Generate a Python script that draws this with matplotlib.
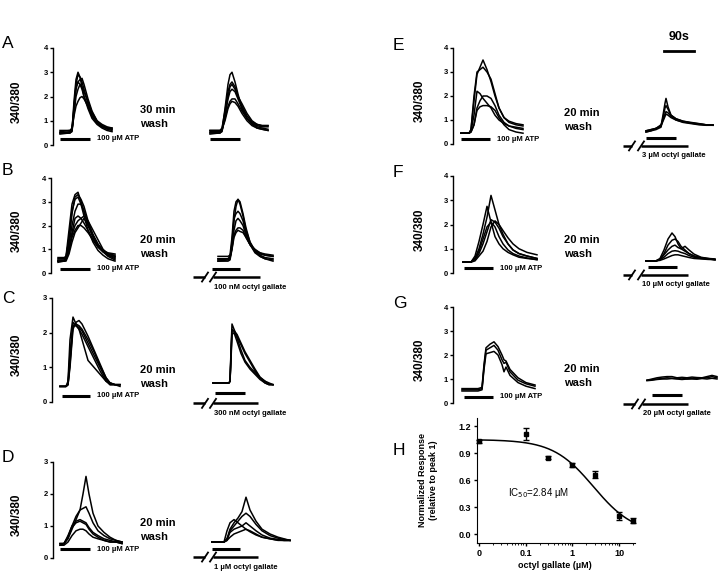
import numpy as np
import matplotlib
matplotlib.use('Agg')
import matplotlib.pyplot as plt

plt.rcParams['font.family'] = ['Liberation Sans', 'DejaVu Sans']

W, H = 726, 577
SEC_PER_PX = 3.0  # 90 s scale bar is 30 px wide

# ---------------- data: Ca traces (time s from trace start, 340/380 ratio) ----------------
A_left_t = [0, 30, 36, 42, 48, 54, 60, 66, 72, 84, 96, 111, 126, 141, 156]
A_left = [
    [0.5, 0.5, 0.6, 1.8, 2.7, 3.0, 2.8, 2.4, 2.0, 1.5, 1.1, 0.85, 0.7, 0.6, 0.55],
    [0.55, 0.6, 0.7, 1.5, 2.4, 2.6, 2.7, 2.75, 2.5, 1.9, 1.4, 1.0, 0.8, 0.7, 0.65],
    [0.45, 0.5, 0.55, 1.4, 2.3, 2.6, 2.5, 2.3, 2.0, 1.6, 1.2, 0.9, 0.75, 0.65, 0.6],
    [0.6, 0.6, 0.65, 1.2, 1.6, 1.8, 1.95, 2.0, 1.9, 1.6, 1.2, 0.9, 0.75, 0.7, 0.65],
    [0.5, 0.55, 0.6, 1.6, 2.5, 2.9, 2.8, 2.6, 2.3, 1.7, 1.3, 0.95, 0.8, 0.7, 0.7],
    [0.5, 0.5, 0.6, 1.3, 2.0, 2.3, 2.5, 2.4, 2.2, 1.8, 1.35, 1.0, 0.85, 0.75, 0.7],
]
A_right_t = [0, 30, 36, 45, 54, 60, 66, 75, 84, 96, 111, 126, 141, 156, 174]
A_right = [
    [0.5, 0.5, 0.6, 1.5, 2.5, 2.9, 3.0, 2.6, 2.1, 1.5, 1.1, 0.9, 0.75, 0.7, 0.65],
    [0.6, 0.6, 0.7, 1.4, 2.2, 2.5, 2.6, 2.4, 2.0, 1.6, 1.2, 0.95, 0.85, 0.8, 0.8],
    [0.45, 0.5, 0.55, 1.2, 1.9, 2.2, 2.3, 2.2, 1.9, 1.5, 1.1, 0.85, 0.7, 0.65, 0.6],
    [0.55, 0.55, 0.6, 1.1, 1.6, 1.8, 1.9, 1.9, 1.7, 1.4, 1.1, 0.9, 0.8, 0.75, 0.75],
    [0.5, 0.5, 0.6, 1.3, 2.0, 2.4, 2.5, 2.3, 2.0, 1.7, 1.3, 1.0, 0.85, 0.8, 0.8],
    [0.6, 0.6, 0.65, 1.0, 1.5, 1.7, 1.8, 1.75, 1.6, 1.3, 1.0, 0.8, 0.7, 0.65, 0.6],
]

B_left_t = [0, 18, 24, 33, 42, 51, 60, 69, 78, 90, 105, 120, 135, 150, 171]
B_left = [
    [0.5, 0.5, 0.7, 1.8, 2.9, 3.3, 3.4, 3.0, 2.6, 2.0, 1.5, 1.1, 0.9, 0.8, 0.7],
    [0.65, 0.65, 0.7, 1.4, 2.5, 3.2, 3.3, 3.1, 2.8, 2.2, 1.6, 1.2, 0.95, 0.85, 0.8],
    [0.5, 0.5, 0.55, 0.9, 1.7, 2.3, 2.4, 2.3, 2.1, 1.8, 1.4, 1.1, 0.9, 0.75, 0.6],
    [0.45, 0.5, 0.5, 0.8, 1.3, 1.7, 1.9, 2.1, 2.3, 2.0, 1.6, 1.2, 0.95, 0.8, 0.7],
    [0.5, 0.5, 0.6, 1.2, 2.0, 2.6, 2.9, 2.9, 2.6, 2.1, 1.6, 1.2, 0.9, 0.7, 0.55],
    [0.55, 0.55, 0.6, 1.0, 1.5, 1.8, 2.0, 2.0, 1.9, 1.7, 1.4, 1.1, 0.9, 0.75, 0.65],
    [0.5, 0.5, 0.6, 1.5, 2.6, 3.1, 3.2, 2.9, 2.4, 1.8, 1.3, 0.95, 0.75, 0.6, 0.5],
    [0.6, 0.6, 0.65, 1.0, 1.6, 2.0, 2.2, 2.3, 2.4, 2.2, 1.8, 1.4, 1.0, 0.8, 0.75],
]
B_right_t = [0, 30, 36, 42, 48, 54, 60, 66, 75, 84, 96, 111, 126, 141, 165]
B_right = [
    [0.7, 0.7, 0.75, 1.5, 2.6, 3.0, 3.1, 2.9, 2.4, 1.8, 1.3, 0.95, 0.8, 0.75, 0.7],
    [0.55, 0.6, 0.6, 1.2, 2.2, 2.8, 3.1, 3.0, 2.5, 1.9, 1.3, 0.9, 0.7, 0.6, 0.55],
    [0.5, 0.5, 0.55, 1.0, 1.8, 2.2, 2.3, 2.2, 2.0, 1.6, 1.2, 0.9, 0.75, 0.65, 0.6],
    [0.6, 0.6, 0.65, 1.1, 1.6, 1.8, 1.9, 1.9, 1.8, 1.5, 1.2, 0.95, 0.85, 0.8, 0.75],
    [0.5, 0.55, 0.6, 1.3, 2.3, 2.5, 2.6, 2.5, 2.2, 1.7, 1.2, 0.85, 0.7, 0.6, 0.5],
    [0.6, 0.6, 0.7, 1.0, 1.5, 1.7, 1.8, 1.75, 1.7, 1.5, 1.2, 1.0, 0.85, 0.75, 0.7],
]

C_left_t = [0, 18, 24, 30, 39, 48, 57, 66, 84, 102, 120, 138, 150, 165, 180]
C_left = [
    [0.45, 0.45, 0.6, 1.8, 2.45, 2.25, 2.1, 1.95, 1.6, 1.25, 0.9, 0.6, 0.5, 0.5, 0.5],
    [0.45, 0.45, 0.5, 1.0, 2.1, 2.3, 2.35, 2.25, 1.9, 1.5, 1.1, 0.7, 0.55, 0.5, 0.5],
    [0.45, 0.45, 0.55, 1.4, 2.2, 2.2, 2.1, 1.8, 1.2, 1.0, 0.8, 0.6, 0.55, 0.5, 0.5],
    [0.45, 0.45, 0.5, 1.1, 2.2, 2.25, 2.2, 2.1, 1.8, 1.45, 1.05, 0.7, 0.55, 0.5, 0.45],
    [0.45, 0.45, 0.5, 1.2, 2.3, 2.2, 2.15, 2.05, 1.7, 1.35, 1.0, 0.65, 0.5, 0.5, 0.5],
]
C_right_t = [0, 48, 51, 54, 57, 63, 72, 84, 96, 111, 126, 141, 156, 168, 180]
C_right = [
    [0.55, 0.55, 0.6, 1.5, 2.25, 2.1, 1.9, 1.65, 1.4, 1.15, 0.9, 0.7, 0.55, 0.5, 0.5],
    [0.55, 0.55, 0.6, 1.3, 2.05, 2.05, 1.85, 1.5, 1.2, 1.0, 0.85, 0.7, 0.6, 0.52, 0.5],
    [0.55, 0.55, 0.6, 1.2, 1.95, 2.0, 1.75, 1.4, 1.15, 0.95, 0.8, 0.65, 0.55, 0.5, 0.5],
    [0.55, 0.55, 0.6, 1.4, 2.1, 2.05, 1.95, 1.7, 1.45, 1.2, 0.95, 0.72, 0.6, 0.55, 0.5],
]

D_left_t = [0, 12, 24, 36, 48, 60, 69, 78, 87, 99, 114, 132, 150, 168, 186]
D_left = [
    [0.45, 0.45, 0.6, 0.9, 1.2, 1.5, 2.0, 2.55, 2.0, 1.4, 1.0, 0.8, 0.65, 0.55, 0.5],
    [0.45, 0.45, 0.65, 1.0, 1.3, 1.5, 1.55, 1.6, 1.4, 1.1, 0.85, 0.7, 0.6, 0.55, 0.5],
    [0.45, 0.45, 0.7, 1.0, 1.15, 1.2, 1.15, 1.1, 0.95, 0.8, 0.7, 0.6, 0.55, 0.5, 0.5],
    [0.4, 0.45, 0.65, 0.95, 1.1, 1.15, 1.1, 1.05, 0.9, 0.75, 0.65, 0.55, 0.5, 0.5, 0.45],
    [0.4, 0.4, 0.5, 0.7, 0.85, 0.9, 0.9, 0.85, 0.75, 0.65, 0.6, 0.55, 0.5, 0.5, 0.45],
]
D_right_t = [0, 36, 45, 54, 66, 78, 90, 102, 114, 132, 150, 174, 198, 216, 234]
D_right = [
    [0.5, 0.5, 0.6, 0.9, 1.1, 1.25, 1.45, 1.9, 1.5, 1.15, 0.9, 0.75, 0.65, 0.6, 0.55],
    [0.5, 0.5, 0.55, 0.85, 1.0, 1.15, 1.3, 1.4, 1.3, 1.05, 0.85, 0.7, 0.62, 0.58, 0.55],
    [0.5, 0.5, 0.6, 0.8, 0.9, 0.95, 1.0, 1.1, 1.0, 0.85, 0.72, 0.62, 0.58, 0.55, 0.55],
    [0.5, 0.5, 0.55, 0.65, 0.75, 0.8, 0.85, 0.9, 0.85, 0.75, 0.65, 0.6, 0.55, 0.55, 0.55],
    [0.5, 0.5, 0.85, 1.1, 1.2, 1.1, 1.0, 0.9, 0.82, 0.72, 0.65, 0.6, 0.56, 0.55, 0.55],
]

E_left_t = [0, 24, 30, 39, 48, 57, 66, 78, 90, 102, 114, 129, 144, 165, 186]
E_left = [
    [0.45, 0.45, 0.6, 1.8, 2.9, 3.2, 3.5, 3.1, 2.6, 2.0, 1.5, 1.1, 0.95, 0.85, 0.8],
    [0.45, 0.45, 0.6, 2.0, 3.0, 3.1, 3.2, 3.0, 2.7, 2.1, 1.5, 1.1, 0.9, 0.8, 0.75],
    [0.45, 0.45, 0.55, 1.2, 2.2, 2.1, 1.9, 1.7, 1.5, 1.2, 1.0, 0.85, 0.75, 0.7, 0.65],
    [0.45, 0.45, 0.5, 0.8, 1.5, 1.8, 2.0, 2.0, 1.9, 1.6, 1.2, 0.9, 0.75, 0.65, 0.6],
    [0.45, 0.45, 0.5, 0.8, 1.4, 1.55, 1.6, 1.6, 1.55, 1.4, 1.1, 0.8, 0.6, 0.5, 0.45],
]
E_right_t = [0, 15, 30, 45, 51, 57, 60, 66, 75, 90, 111, 135, 159, 180, 201]
E_right = [
    [0.55, 0.6, 0.65, 0.75, 1.2, 1.7, 1.9, 1.55, 1.2, 1.05, 0.95, 0.9, 0.85, 0.8, 0.8],
    [0.5, 0.55, 0.6, 0.7, 1.1, 1.5, 1.6, 1.45, 1.2, 1.05, 0.95, 0.88, 0.84, 0.8, 0.8],
    [0.55, 0.6, 0.65, 0.8, 1.0, 1.25, 1.35, 1.3, 1.15, 1.0, 0.92, 0.87, 0.82, 0.8, 0.78],
    [0.5, 0.55, 0.65, 0.75, 0.95, 1.15, 1.25, 1.2, 1.1, 1.0, 0.9, 0.85, 0.8, 0.78, 0.78],
]

F_left_t = [0, 24, 36, 48, 60, 72, 84, 96, 108, 120, 135, 150, 168, 192, 222]
F_left = [
    [0.45, 0.45, 0.7, 1.3, 2.0, 2.75, 2.1, 1.5, 1.2, 1.0, 0.85, 0.75, 0.65, 0.6, 0.55],
    [0.45, 0.45, 0.6, 1.0, 1.6, 2.3, 3.2, 2.6, 2.0, 1.6, 1.2, 0.95, 0.8, 0.7, 0.6],
    [0.45, 0.45, 0.55, 0.8, 1.2, 1.7, 2.2, 2.1, 1.85, 1.5, 1.2, 0.95, 0.8, 0.7, 0.6],
    [0.45, 0.45, 0.5, 0.7, 0.9, 1.3, 1.9, 2.15, 2.0, 1.75, 1.45, 1.2, 1.0, 0.85, 0.75],
    [0.45, 0.45, 0.6, 0.9, 1.4, 1.9, 2.1, 1.9, 1.5, 1.2, 0.95, 0.8, 0.7, 0.62, 0.55],
]
F_right_t = [0, 30, 42, 54, 66, 78, 87, 96, 105, 117, 129, 144, 165, 186, 207]
F_right = [
    [0.5, 0.5, 0.6, 0.95, 1.4, 1.65, 1.5, 1.2, 1.0, 0.9, 0.8, 0.7, 0.62, 0.58, 0.55],
    [0.5, 0.5, 0.55, 0.8, 1.15, 1.35, 1.4, 1.3, 1.1, 0.95, 0.8, 0.7, 0.63, 0.6, 0.58],
    [0.5, 0.5, 0.55, 0.75, 0.95, 1.1, 1.15, 1.05, 1.0, 1.1, 0.95, 0.78, 0.65, 0.6, 0.55],
    [0.5, 0.5, 0.55, 0.65, 0.8, 0.9, 0.92, 0.9, 0.85, 0.8, 0.72, 0.65, 0.6, 0.58, 0.55],
    [0.5, 0.5, 0.52, 0.58, 0.65, 0.72, 0.75, 0.75, 0.72, 0.68, 0.64, 0.6, 0.58, 0.56, 0.55],
]

G_left_t = [0, 48, 60, 66, 72, 84, 96, 108, 120, 126, 132, 144, 168, 192, 219]
G_left = [
    [0.6, 0.6, 0.65, 1.6, 2.3, 2.45, 2.55, 2.35, 2.0, 1.8, 1.75, 1.4, 1.05, 0.85, 0.75],
    [0.55, 0.55, 0.6, 1.5, 2.2, 2.3, 2.4, 2.2, 1.8, 1.65, 1.7, 1.3, 0.95, 0.8, 0.7],
    [0.5, 0.5, 0.55, 1.4, 2.05, 2.1, 2.15, 2.0, 1.6, 1.3, 1.5, 1.15, 0.85, 0.7, 0.6],
]
G_right_t = [0, 15, 30, 45, 60, 75, 90, 105, 120, 135, 150, 165, 180, 195, 210]
G_right = [
    [0.95, 1.0, 1.05, 1.08, 1.1, 1.1, 1.05, 1.07, 1.05, 1.08, 1.06, 1.05, 1.1, 1.15, 1.1],
    [0.95, 0.97, 1.0, 1.02, 1.05, 1.03, 1.02, 1.04, 1.0, 1.03, 1.02, 1.05, 1.05, 1.1, 1.05],
    [0.93, 0.95, 0.98, 1.0, 1.0, 1.02, 1.0, 0.98, 1.0, 1.0, 0.99, 1.02, 1.0, 1.03, 1.0],
]

# trace start times (s from y axis): left, right
trace_starts = {'A': (21, 471), 'B': (21, 501), 'C': (24, 483), 'D': (21, 477),
                'E': (24, 579), 'F': (30, 579), 'G': (27, 582)}
# ATP bar: (start s, end s, level)
atp_bars = {'A': (21, 111, 0.25), 'B': (27, 117, 0.17), 'C': (30, 114, 0.18), 'D': (21, 111, 0.28),
            'E': (24, 111, 0.2), 'F': (33, 120, 0.2), 'G': (33, 120, 0.25)}
# octyl gallate 2nd ATP bar: (start s, end s, level)
upper_bars = {'A': (471, 561, 0.25), 'B': (483, 567, 0.17), 'C': (489, 579, 0.25), 'D': (477, 561, 0.28),
              'E': (579, 669, 0.25), 'F': (585, 672, 0.25), 'G': (597, 687, 0.33)}
# octyl gallate bar with break: (start, break1, break2, end, level)
lower_bars = {'B': (426, 462, 486, 627, -0.17), 'C': (423, 459, 483, 618, -0.04),
              'D': (420, 456, 480, 615, 0.03), 'E': (510, 537, 564, 705, -0.08),
              'F': (510, 537, 564, 705, -0.08), 'G': (510, 546, 567, 705, -0.04)}
dose_labels = {'B': '100 nM octyl gallate', 'C': '300 nM octyl gallate', 'D': '1 µM octyl gallate',
               'E': '3 µM octyl gallate', 'F': '10 µM octyl gallate', 'G': '20 µM octyl gallate'}
wash_labels = {'A': '30 min\nwash', 'B': '20 min\nwash', 'C': '20 min\nwash', 'D': '20 min\nwash',
               'E': '20 min\nwash', 'F': '20 min\nwash', 'G': '20 min\nwash'}
y_max = {'A': 4, 'B': 4, 'C': 3, 'D': 3, 'E': 4, 'F': 4, 'G': 4}

# panel H: dose response
H_dose = [0, 0.1, 0.3, 1, 3, 10, 20]
H_resp = [1.03, 1.11, 0.85, 0.77, 0.66, 0.20, 0.15]
H_err = [0.02, 0.07, 0.02, 0.02, 0.04, 0.04, 0.03]
H_top = 1.05
H_ic50 = 2.84
H_hill = 1.0

traces = {'A': (A_left_t, A_left, A_right_t, A_right), 'B': (B_left_t, B_left, B_right_t, B_right),
          'C': (C_left_t, C_left, C_right_t, C_right), 'D': (D_left_t, D_left, D_right_t, D_right),
          'E': (E_left_t, E_left, E_right_t, E_right), 'F': (F_left_t, F_left, F_right_t, F_right),
          'G': (G_left_t, G_left, G_right_t, G_right)}

# ---------------- layout (pixels) ----------------
# letter: (axis x, y of 0, y of top, right edge, letter x, letter baseline, wash x, wash y, ylabel x)
layout = {
    'A': (53, 145, 48, 300, 2, 48, 140, 117, 17),
    'B': (51, 273, 178, 300, 2, 175, 140, 247, 17),
    'C': (52, 402, 298, 300, 2, 303, 140, 377, 17),
    'D': (53, 558, 462, 300, 2, 462, 140, 530, 17),
    'E': (453, 144, 48, 720, 393, 50, 564, 120, 420),
    'F': (453, 273, 176, 720, 393, 177, 564, 247, 420),
    'G': (453, 403, 307, 720, 393, 308, 564, 376, 420),
}

fig = plt.figure(figsize=(W / 100, H / 100), dpi=100)


def fx(x):
    return x / W


def fy(y):
    return 1 - y / H


BOLD = dict(fontweight='bold', color='black')

for key, (ax_x, y0, ytop, right, lx, ly, wx, wy, ylx) in layout.items():
    ax = fig.add_axes([fx(ax_x), fy(y0), (right - ax_x) / W, (y0 - ytop) / H])
    ax.set_xlim(0, (right - ax_x) * SEC_PER_PX)
    ax.set_ylim(0, y_max[key])
    ax.patch.set_alpha(0)
    for s in ['top', 'right', 'bottom']:
        ax.spines[s].set_visible(False)
    ax.spines['left'].set_linewidth(1.0)
    ax.set_xticks([])
    ax.set_yticks(range(y_max[key] + 1))
    ax.tick_params(axis='y', length=2.5, width=1.0, pad=1, labelsize=5.5)
    for lab in ax.get_yticklabels():
        lab.set_fontweight('bold')

    px_per_unit = (y0 - ytop) / y_max[key]
    lt, ly_list, rt, ry_list = traces[key]
    t_left, t_right = trace_starts[key]
    for ys in ly_list:
        ax.plot(np.array(lt) + t_left, ys, color='black', lw=1.1, clip_on=False)
    for ys in ry_list:
        ax.plot(np.array(rt) + t_right, ys, color='black', lw=1.1, clip_on=False)

    # ATP bar and label
    a0, a1, alev = atp_bars[key]
    ax.plot([a0, a1], [alev, alev], color='black', lw=2.2, solid_capstyle='butt', clip_on=False)
    ax.text(a1 + 7 * SEC_PER_PX, alev, '100 µM ATP', fontsize=5.5, va='center', ha='left', **BOLD)

    u0, u1, ulev = upper_bars[key]
    ax.plot([u0, u1], [ulev, ulev], color='black', lw=2.2, solid_capstyle='butt', clip_on=False)

    if key in lower_bars:
        b0, k1, k2, b1, blev = lower_bars[key]
        ax.plot([b0, k1], [blev, blev], color='black', lw=1.8, solid_capstyle='butt', clip_on=False)
        ax.plot([k2, b1], [blev, blev], color='black', lw=1.8, solid_capstyle='butt', clip_on=False)
        dt = 3 * SEC_PER_PX
        dy = 4.5 / px_per_unit
        for k in (k1, k2):
            ax.plot([k - dt, k + dt], [blev - dy, blev + dy], color='black', lw=1.3, clip_on=False)
        ax.text(k2 + 1 * SEC_PER_PX, blev - 10 / px_per_unit, dose_labels[key], fontsize=5.5,
                va='center', ha='left', **BOLD)

    fig.text(fx(lx), fy(ly), key, fontsize=12.5, va='baseline', ha='left')
    fig.text(fx(wx), fy(wy), wash_labels[key], fontsize=8, va='center', ha='left',
             linespacing=1.4, **BOLD)
    fig.text(fx(ylx), fy((y0 + ytop) / 2 + 5), '340/380', rotation=90, fontsize=8.5,
             va='center', ha='center', **BOLD)

# scale bar 90 s
fig.text(fx(679), fy(37), '90s', fontsize=9, ha='center', va='center', **BOLD)
fig.add_artist(plt.Line2D([fx(664), fx(694)], [fy(51), fy(51)], color='black', lw=2))

# ---------------- panel H ----------------
axh = fig.add_axes([fx(477), fy(543), (635 - 477) / W, (543 - 418) / H])
axh.set_xscale('log')
zero_pos = 0.01
xd = np.array([zero_pos if d == 0 else d for d in H_dose])
axh.set_xlim(10 ** (-2.04), 10 ** 1.34)
axh.set_ylim(-0.1, 1.29)
xc = np.logspace(-2, np.log10(20), 200)
axh.plot(xc, H_top / (1 + (xc / H_ic50) ** H_hill), color='black', lw=1.1)
axh.errorbar(xd, H_resp, yerr=H_err, fmt='s', color='black', ms=3.2, capsize=2, elinewidth=1,
             capthick=1, clip_on=False)
for s in ['top', 'right']:
    axh.spines[s].set_visible(False)
axh.set_yticks([0.0, 0.3, 0.6, 0.9, 1.2])
axh.set_yticklabels(['0.0', '0.3', '0.6', '0.9', '1.2'])
axh.set_xticks([0.01, 0.1, 1, 10])
axh.set_xticklabels(['0', '0.1', '1', '10'])
axh.tick_params(axis='both', which='major', length=2.5, width=1, pad=1.5, labelsize=6.5)
axh.tick_params(axis='x', which='minor', length=1.5, width=0.6)
for lab in axh.get_xticklabels() + axh.get_yticklabels():
    lab.set_fontweight('bold')
axh.patch.set_alpha(0)
axh.text(0.196, 0.4, 'IC$_{50}$=2.84 µM', transform=axh.transAxes, fontsize=7,
         ha='left', va='center')
fig.text(fx(518), fy(566), 'octyl gallate (µM)', fontsize=6.5, ha='left', va='center', **BOLD)
fig.text(fx(428), fy(480), 'Normalized Response\n(relative to peak 1)', rotation=90, fontsize=6.5,
         ha='center', va='center', multialignment='center', linespacing=1.3, **BOLD)
fig.text(fx(393), fy(455), 'H', fontsize=12.5, va='baseline', ha='left')

fig.savefig('out.png', dpi=100)
